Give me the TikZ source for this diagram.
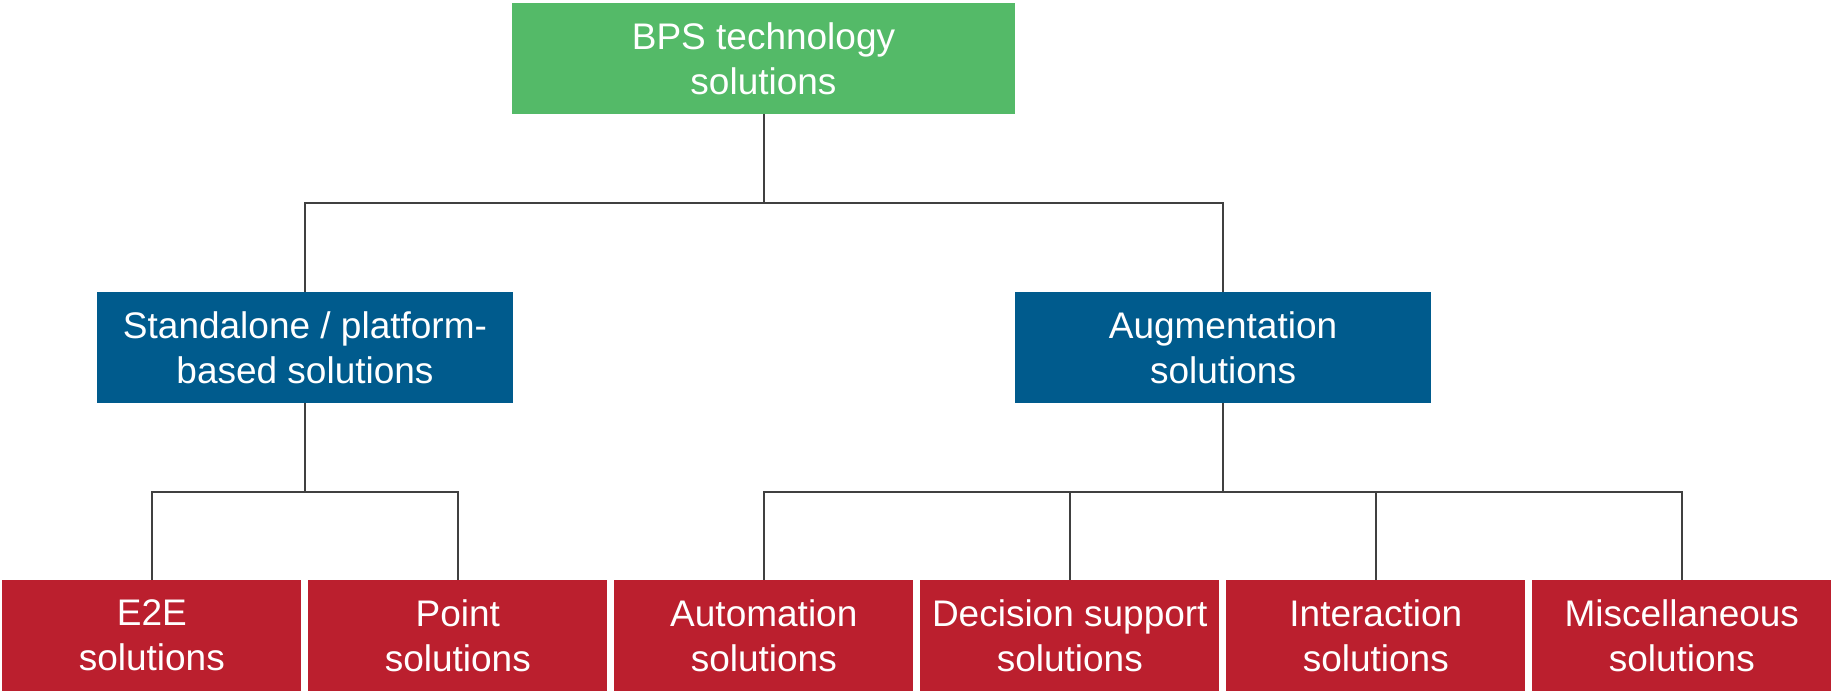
\documentclass[tikz,border=0pt]{standalone}
\usepackage{fontspec}
\setmainfont{Liberation Sans}
\usepackage{tikz}

\definecolor{topgreen}{RGB}{84,186,104}
\definecolor{midblue}{RGB}{0,91,141}
\definecolor{leafred}{RGB}{187,31,46}
\definecolor{linegray}{RGB}{64,64,64}

\tikzset{
  box/.style={text=white, inner sep=0pt, align=center, minimum height=111pt,
              font=\fontsize{37}{45}\selectfont},
  topbox/.style={box, fill=topgreen, minimum width=503pt},
  midbox/.style={box, fill=midblue, minimum width=416pt},
  leafbox/.style={box, fill=leafred, minimum width=299pt},
  link/.style={draw=linegray, line width=2pt}
}

\begin{document}
\begin{tikzpicture}[x=1pt,y=-1pt]

\useasboundingbox (0,0) rectangle (1833,693);

%% boxes
\node[topbox]  (bps)   at (763.5,58.5) {BPS technology\\solutions};
\node[midbox]  (alone) at (305,347.5)  {Standalone / platform-\\based solutions};
\node[midbox]  (augm)  at (1223,347.5) {Augmentation\\solutions};
\node[leafbox] (e2e)   at (151.8,635.5)  {E2E\\solutions};
\node[leafbox] (point) at (457.8,635.5)  {Point\\solutions};
\node[leafbox] (auto)  at (763.8,635.5)  {Automation\\solutions};
\node[leafbox] (dec)   at (1069.8,635.5) {Decision support\\solutions};
\node[leafbox] (inter) at (1375.8,635.5) {Interaction\\solutions};
\node[leafbox] (misc)  at (1681.8,635.5) {Miscellaneous\\solutions};

%% joints
\coordinate (jtop)   at (763.5,203);
\coordinate (jalone) at (305,492);
\coordinate (jaugm)  at (1223,492);

%% connectors
\draw[link] (bps.south) -- (jtop);
\draw[link] (alone.north) |- (jtop) -| (augm.north);
\draw[link] (alone.south) -- (jalone);
\draw[link] (e2e.north) |- (jalone) -| (point.north);
\draw[link] (augm.south) -- (jaugm);
\draw[link] (auto.north) |- (jaugm) -| (misc.north);
\draw[link] (dec.north) -- (dec.north |- jaugm);     %% dec
\draw[link] (inter.north) -- (inter.north |- jaugm); %% inter

\end{tikzpicture}
\end{document}
